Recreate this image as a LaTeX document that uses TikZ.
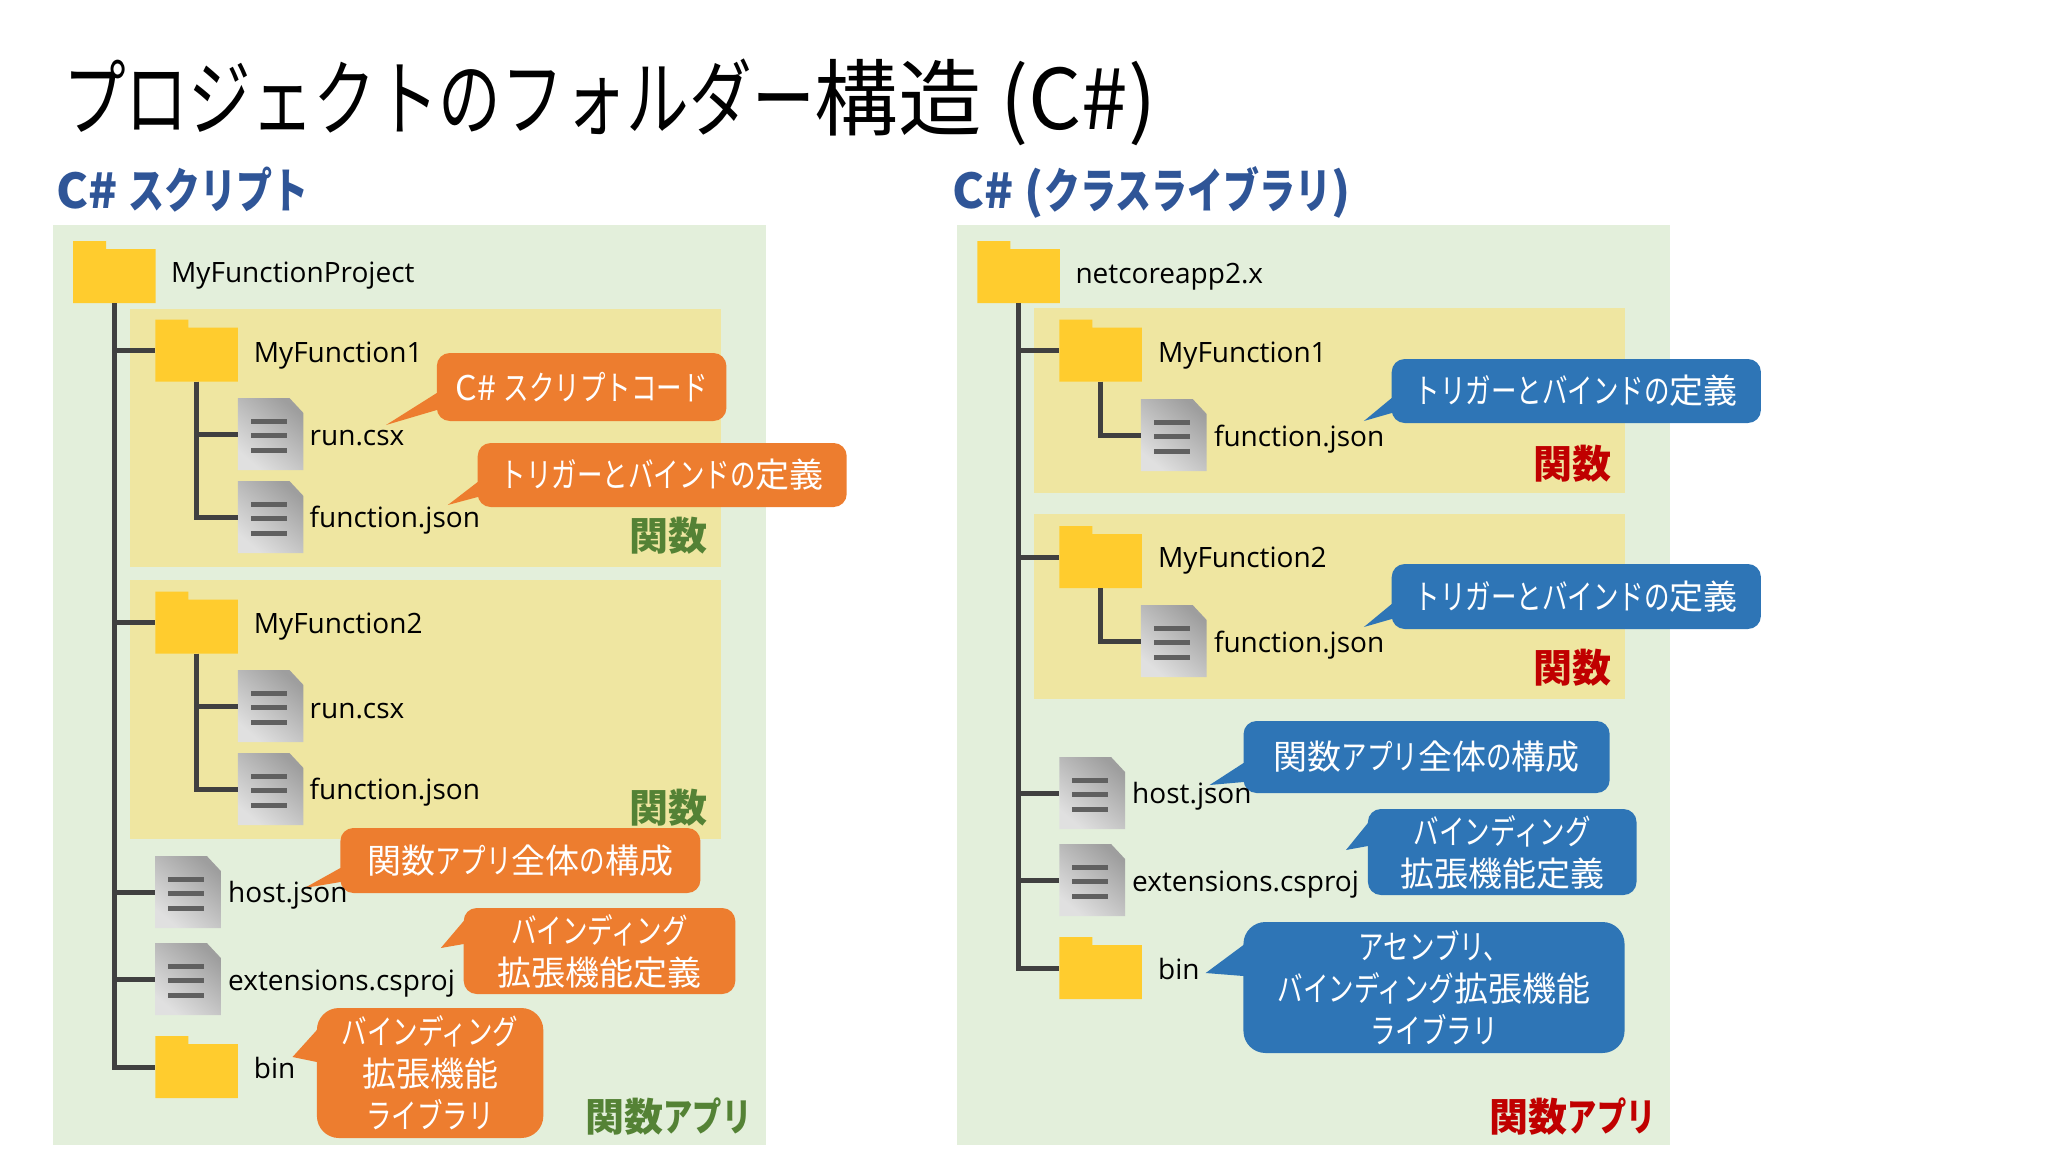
\documentclass[tikz,border=0pt]{standalone}
\usepackage{fontspec}
\setmainfont{Noto Sans CJK JP}
\newfontfamily\latinfont{Open Sans}
% kana are set narrow, kanji at full width
\newfontfamily\kn{Noto Sans CJK JP}[FakeStretch=0.75]
\definecolor{panegreen}{HTML}{E3EFDB}
\definecolor{boxyellow}{HTML}{EFE6A1}
\definecolor{foldery}{HTML}{FFCC2E}
\definecolor{treegray}{HTML}{404040}
\definecolor{barsgray}{HTML}{606060}
\definecolor{callorange}{HTML}{ED7D2F}
\definecolor{callblue}{HTML}{2E75B6}
\definecolor{headblue}{HTML}{2F5597}
\definecolor{tagred}{HTML}{C00000}
\definecolor{taggreen}{HTML}{548235}
\tikzset{
  pane/.style={fill=panegreen,draw=none},
  fnbox/.style={fill=boxyellow,draw=none},
  foldernode/.style={minimum width=82.5pt,minimum height=62pt,inner sep=0pt,outer sep=0pt},
  filenode/.style={minimum width=65.7pt,minimum height=72pt,inner sep=0pt,outer sep=0pt},
  tree/.style={draw=treegray,line width=5pt},
  label/.style={anchor=base west,inner sep=0pt,font=\latinfont\fontsize{28}{34}\selectfont},
  call/.style={fill=#1,text=white,inner sep=0pt,outer sep=0pt,align=center,rounded corners=13pt,
    font=\fontsize{34}{42}\selectfont},
  tail/.style={fill=#1,draw=none},
  tag/.style={font=\bfseries\fontsize{39}{42}\selectfont,inner sep=0pt},
  heading/.style={anchor=base west,inner sep=0pt,text=headblue,font=\bfseries\fontsize{48}{50}\selectfont},
}
\newcommand{\foldericon}[3]{%
  \node[foldernode] (#1) at (#2,#3) {};
  \fill[foldery] (#1.south west) -- (#1.north west) -- ([xshift=33pt]#1.north west)
    -- ([xshift=33pt,yshift=-8pt]#1.north west) -- ([yshift=-8pt]#1.north east)
    -- (#1.south east) -- cycle;
}
\newcommand{\fileicon}[3]{%
  \node[filenode] (#1) at (#2,#3) {};
  \shade[top color=black!38,bottom color=black!12,shading angle=-40]
    (#1.south west) -- (#1.north west) -- ([xshift=-14pt]#1.north east)
    -- ([yshift=-15pt]#1.north east) -- (#1.south east) -- cycle;
  \fill[barsgray] ([xshift=13pt,yshift=-21pt]#1.north west) rectangle ++(36,5);
  \fill[barsgray] ([xshift=13pt,yshift=-35pt]#1.north west) rectangle ++(36,5);
  \fill[barsgray] ([xshift=13pt,yshift=-50pt]#1.north west) rectangle ++(36,5);
}
% tail of a callout: node, colour, tip, the two y values on its left edge
\newcommand{\calltail}[5]{%
  \fill[tail=#2] (#3) -- (#1.west |- 0,#4) -- ([xshift=6pt]#1.west |- 0,#4)
    -- ([xshift=6pt]#1.west |- 0,#5) -- (#1.west |- 0,#5) -- cycle;
}
\begin{document}
\begin{tikzpicture}[x=1pt,y=-1pt]
\useasboundingbox (0,0) rectangle (2048,1152);

% headings
\node[anchor=base west,inner sep=0pt,font=\fontsize{83.5}{86}\selectfont] (title) at (63,129) {{\kn プロジェクトのフォルダー}構造 (C\#)};
\node[heading] (headl) at (56.5,208) {C\# {\kn スクリプト}};
\node[heading] (headr) at (952.5,208) {C\# ({\kn クラスライブラリ})};

% panes
\fill[pane] (52.7,225) rectangle (766,1145);
\fill[pane] (956.9,225) rectangle (1670.3,1145);
\fill[fnbox] (130.3,309) rectangle (721.4,567);
\fill[fnbox] (130.3,580) rectangle (721.4,839);
\fill[fnbox] (1033.5,308) rectangle (1624.6,493);
\fill[fnbox] (1033.5,514) rectangle (1624.6,699);

% left tree
\foldericon{lroot}{114.4}{272}
\foldericon{lf1}{196.5}{350.5}
\fileicon{lrun1}{270.6}{434}
\fileicon{ljson1}{270.6}{517}
\foldericon{lf2}{196.5}{622.5}
\fileicon{lrun2}{270.6}{706}
\fileicon{ljson2}{270.6}{789}
\fileicon{lhost}{188}{892}
\fileicon{lext}{188}{979}
\foldericon{lbin}{196.5}{1067}
\draw[tree] (lroot.south) |- (lf1.west);
\draw[tree] (lroot.south) |- (lf2.west);
\draw[tree] (lroot.south) |- (lhost.west);
\draw[tree] (lroot.south) |- (lext.west);
\draw[tree] (lroot.south) |- (lbin.west);
\draw[tree] (lf1.south) |- (lrun1.west);
\draw[tree] (lf1.south) |- (ljson1.west);
\draw[tree] (lf2.south) |- (lrun2.west);
\draw[tree] (lf2.south) |- (ljson2.west);

% right tree
\foldericon{rroot}{1018.6}{272}
\foldericon{rf1}{1100.7}{350.5}
\fileicon{rjson1}{1173.8}{435}
\foldericon{rf2}{1100.7}{557}
\fileicon{rjson2}{1173.8}{641}
\fileicon{rhost}{1092.2}{793}
\fileicon{rext}{1092.2}{880}
\foldericon{rbin}{1100.7}{968}
\draw[tree] (rroot.south) |- (rf1.west);
\draw[tree] (rroot.south) |- (rf2.west);
\draw[tree] (rroot.south) |- (rhost.west);
\draw[tree] (rroot.south) |- (rext.west);
\draw[tree] (rroot.south) |- (rbin.west);
\draw[tree] (rf1.south) |- (rjson1.west);
\draw[tree] (rf2.south) |- (rjson2.west);

% left callouts
\node[call=callorange,minimum width=289.6pt,minimum height=68pt] (c1) at (581.6,387) {C\# {\kn スクリプトコード}};
\calltail{c1}{callorange}{386,425}{393}{410}
\node[call=callorange,minimum width=369pt,minimum height=64pt] (c2) at (662.2,475) {{\kn トリガーとバインドの}定義};
\calltail{c2}{callorange}{447.8,505}{482}{497}
\node[call=callorange,minimum width=360pt,minimum height=65pt] (c3) at (520.4,860.5) {関数{\kn アプリ}全体{\kn の}構成};
\calltail{c3}{callorange}{304.5,888}{868}{882}
\node[call=callorange,minimum width=271.6pt,minimum height=86pt] (c4) at (599.5,951) {{\kn バインディング}\\拡張機能定義};
\calltail{c4}{callorange}{440.8,948}{921}{944}
\node[call=callorange,minimum width=226.4pt,minimum height=130pt,rounded corners=22pt] (c5) at (430.1,1073) {{\kn バインディング}\\拡張機能\\{\kn ライブラリ}};
\calltail{c5}{callorange}{292.5,1057}{1030}{1062}

% right callouts
\node[call=callblue,minimum width=369.2pt,minimum height=64pt] (b1) at (1576.3,391) {{\kn トリガーとバインドの}定義};
\calltail{b1}{callblue}{1363.9,421}{398}{413}
\node[call=callblue,minimum width=369.2pt,minimum height=65pt] (b2) at (1576.3,596.5) {{\kn トリガーとバインドの}定義};
\calltail{b2}{callblue}{1363.9,627}{604}{619}
\node[call=callblue,minimum width=366.1pt,minimum height=72pt] (b3) at (1426.6,757) {関数{\kn アプリ}全体{\kn の}構成};
\calltail{b3}{callblue}{1209.6,785}{763}{782}
\node[call=callblue,minimum width=268.6pt,minimum height=86pt] (b4) at (1502.2,852) {{\kn バインディング}\\拡張機能定義};
\calltail{b4}{callblue}{1346,850}{823}{846}
\node[call=callblue,minimum width=381.1pt,minimum height=131pt,rounded corners=22pt] (b5) at (1434,987.5) {{\kn アセンブリ、}\\{\kn バインディング}拡張機能\\{\kn ライブラリ}};
\calltail{b5}{callblue}{1205.7,973}{945}{976}

% left labels
\node[label] (tlroot) at (171,282) {MyFunctionProject};
\node[label] (tlf1) at (253.7,362) {MyFunction1};
\node[label] (tlrun1) at (309.5,445) {run.csx};
\node[label] (tljson1) at (309.5,527) {function.json};
\node[label] (tlf2) at (253.7,633) {MyFunction2};
\node[label] (tlrun2) at (309.5,718) {run.csx};
\node[label] (tljson2) at (309.5,799) {function.json};
\node[label] (tlhost) at (228,902) {host.json};
\node[label] (tlext) at (228,990) {extensions.csproj};
\node[label] (tlbin) at (253.7,1078) {bin};
\node[tag,text=taggreen] (tagl1) at (668.6,536) {関数};
\node[tag,text=taggreen] (tagl2) at (668.6,808) {関数};
\node[tag,text=taggreen] (tagl3) at (668.6,1117) {関数{\kn アプリ}};

% right labels
\node[label] (trroot) at (1075.3,283) {netcoreapp2.x};
\node[label] (trf1) at (1157.9,362) {MyFunction1};
\node[label] (trjson1) at (1213.8,446) {function.json};
\node[label] (trf2) at (1157.9,567) {MyFunction2};
\node[label] (trjson2) at (1213.8,652) {function.json};
\node[label] (trhost) at (1132,803) {host.json};
\node[label] (trext) at (1132,891) {extensions.csproj};
\node[label] (trbin) at (1157.9,979) {bin};
\node[tag,text=tagred] (tagr1) at (1572.8,464) {関数};
\node[tag,text=tagred] (tagr2) at (1572.8,668) {関数};
\node[tag,text=tagred] (tagr3) at (1572.8,1117) {関数{\kn アプリ}};
\end{tikzpicture}
\end{document}
